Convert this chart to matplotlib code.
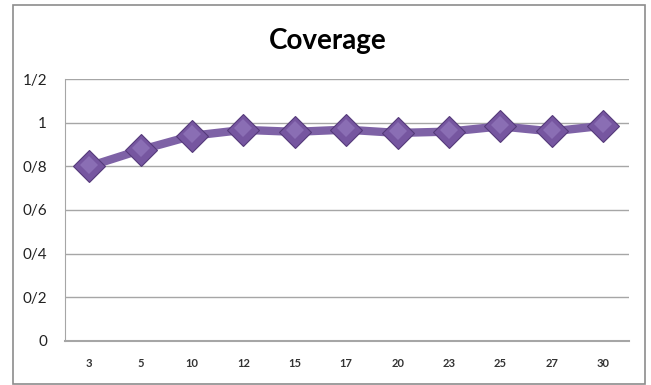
import matplotlib.pyplot as plt
from matplotlib.patches import Rectangle

# coverage per run length
x_labels = ["3", "5", "10", "12", "15", "17", "20", "23", "25", "27", "30"]
coverage = [0.80, 0.875, 0.94, 0.967, 0.958, 0.968, 0.953, 0.959, 0.983, 0.96, 0.986]
y_ticks = [0, 0.2, 0.4, 0.6, 0.8, 1.0, 1.2]
y_tick_labels = ["0", "0/2", "0/4", "0/6", "0/8", "1", "1/2"]

fig = plt.figure(figsize=(6.51, 3.85), dpi=100, facecolor="white")
fig.patches.append(Rectangle((13 / 651, 1 / 385), 632 / 651, 379 / 385,
                             transform=fig.transFigure, fill=False,
                             edgecolor="#8c8c8c", linewidth=1.2))

ax = fig.add_axes([65 / 651, 1 - 341 / 385, 564 / 651, 262 / 385])
xs = list(range(len(x_labels)))

ax.plot(xs, coverage, color="#7e62a6", linewidth=6, solid_capstyle="round",
        zorder=2)
ax.plot(xs, coverage, linestyle="none", marker="D", markersize=16,
        markerfacecolor="#7656a0", markeredgecolor="#553a7a",
        markeredgewidth=0.8, zorder=3)
# lighter top facet on each diamond
ax.plot(xs, [v + 0.008 for v in coverage], linestyle="none", marker="D",
        markersize=9, markerfacecolor="#8a6eb4", markeredgewidth=0, zorder=4)

ax.set_xlim(-0.47, 10.5)
ax.set_ylim(0, 1.2)
ax.set_yticks(y_ticks)
ax.set_yticklabels(y_tick_labels, fontsize=11, color="#222222",
                   family=["Lato", "DejaVu Sans"])
ax.set_xticks(xs)
ax.set_xticklabels(x_labels, fontsize=8, fontweight="bold", color="#333333",
                   family=["Lato", "DejaVu Sans"])
ax.tick_params(axis="both", length=0)
ax.tick_params(axis="y", pad=13)
ax.tick_params(axis="x", pad=12)
ax.grid(axis="y", color="#a6a6a6", linewidth=1.0)
ax.set_axisbelow(True)
for side in ["top", "right"]:
    ax.spines[side].set_visible(False)
ax.spines["left"].set_color("#a6a6a6")
ax.spines["bottom"].set_color("#a6a6a6")
ax.spines["bottom"].set_linewidth(1.5)

fig.text(328 / 651, 1 - 41 / 385, "Coverage", ha="center", va="center",
         fontsize=20, fontweight="bold", family=["Lato", "DejaVu Sans"])

fig.savefig("out.png", dpi=100)
